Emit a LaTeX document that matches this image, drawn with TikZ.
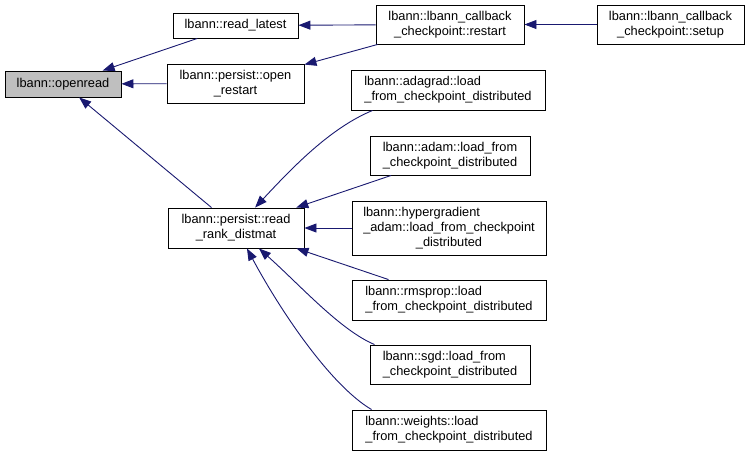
\documentclass[tikz,border=0pt]{standalone}
\usepackage{fontspec}
\setmainfont{Liberation Sans}
\usetikzlibrary{arrows.meta}
\definecolor{edgeblue}{HTML}{191970}
\definecolor{rootgray}{HTML}{BFBFBF}
\newcommand{\twol}[2]{\begin{tabular}{@{}l@{}}#1\\\multicolumn{1}{@{}c@{}}{#2}\end{tabular}}
\newcommand{\threel}[3]{\begin{tabular}{@{}l@{}}#1\\#2\\\multicolumn{1}{@{}c@{}}{#3}\end{tabular}}

\begin{document}
\begin{tikzpicture}[
    x=1pt, y=-1pt,
    every node/.style={font=\fontsize{12.8}{15}\selectfont},
    fn/.style={draw=black, line width=0.9pt, rectangle, inner sep=0pt},
    root/.style={fn, fill=rootgray},
    edge/.style={draw=edgeblue, line width=0.9pt, -{Triangle[length=12pt,width=9pt]}}
]
\useasboundingbox (0,0) rectangle (749,456);

% funkce
\node[root, minimum width=116pt, minimum height=26pt] (openread) at (63,84) {lbann::openread};
\node[fn, minimum width=125pt, minimum height=25pt] (readlatest) at (235.5,25.5) {lbann::read\_latest};
\node[fn, minimum width=137pt, minimum height=39pt] (openrestart) at (235.5,83.5) {\twol{lbann::persist::open}{\_restart}};
\node[fn, minimum width=148pt, minimum height=39pt] (restart) at (450,24.5) {\twol{lbann::lbann\_callback}{\_checkpoint::restart}};
\node[fn, minimum width=147pt, minimum height=39pt] (setup) at (670.5,24.5) {\twol{lbann::lbann\_callback}{\_checkpoint::setup}};
\node[fn, minimum width=136pt, minimum height=40pt] (rrd) at (236,228) {\twol{lbann::persist::read}{\_rank\_distmat}};

% volajici
\node[fn, minimum width=194pt, minimum height=40pt] (adagrad) at (448,90) {\twol{lbann::adagrad::load}{\_from\_checkpoint\_distributed}};
\node[fn, minimum width=160pt, minimum height=39pt] (adam) at (450,155.5) {\twol{lbann::adam::load\_from}{\_checkpoint\_distributed}};
\node[fn, minimum width=194pt, minimum height=54pt] (hyper) at (449,228) {\threel{lbann::hypergradient}{\_adam::load\_from\_checkpoint}{\_distributed}};
\node[fn, minimum width=194pt, minimum height=40pt] (rmsprop) at (449,300) {\twol{lbann::rmsprop::load}{\_from\_checkpoint\_distributed}};
\node[fn, minimum width=160pt, minimum height=39pt] (sgd) at (450,364.5) {\twol{lbann::sgd::load\_from}{\_checkpoint\_distributed}};
\node[fn, minimum width=194pt, minimum height=40pt] (weights) at (449,430) {\twol{lbann::weights::load}{\_from\_checkpoint\_distributed}};

% hrany
\draw[edge] (readlatest) -- (openread);
\draw[edge] (openrestart) -- (openread);
\draw[edge] (rrd) -- (openread);
\draw[edge] (restart) -- (readlatest);
\draw[edge] (restart) -- (openrestart);
\draw[edge] (setup) -- (restart);
\draw[edge] ([xshift=22pt]adagrad.south west) .. controls (330,128) and (292,168) .. (rrd);
\draw[edge] (adam) -- (rrd);
\draw[edge] (hyper) -- (rrd);
\draw[edge] (rmsprop) -- (rrd);
\draw[edge] ([xshift=5pt]sgd.north west) .. controls (340,330) and (300,285) .. (rrd);
\draw[edge] ([xshift=20pt]weights.north west) .. controls (330,385) and (280,310) .. (rrd);

\end{tikzpicture}
\end{document}
